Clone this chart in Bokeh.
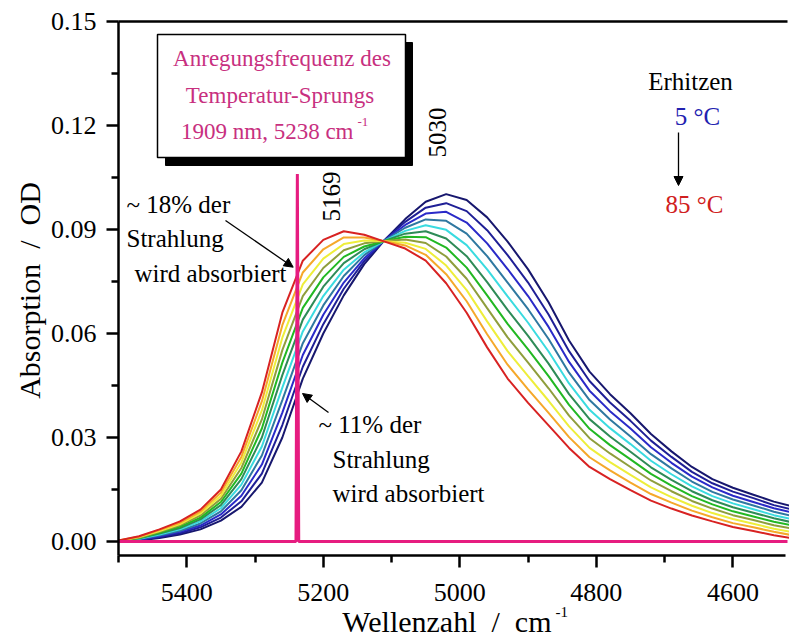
import math
from bokeh.plotting import figure
from bokeh.models import (Range1d, FixedTicker, PrintfTickFormatter, Label, Arrow,
                          NormalHead, BoxAnnotation, LinearAxis)
from bokeh.embed import file_html
from bokeh.resources import INLINE

# ---------------- data ----------------
wavenumber = [5500, 5470, 5440, 5410, 5380, 5350, 5320, 5290, 5260, 5230, 5200, 5170,
              5140, 5110, 5080, 5050, 5020, 4990, 4960, 4930, 4900, 4870, 4840, 4810,
              4780, 4750, 4720, 4690, 4660, 4630, 4600, 4570, 4540, 4510]

t05 = [0.0000, 0.0003, 0.0010, 0.0020, 0.0035, 0.0060, 0.0100, 0.0170, 0.0300, 0.0470, 0.0600, 0.0710,
       0.0800, 0.0870, 0.0930, 0.0980, 0.1002, 0.0985, 0.0935, 0.0865, 0.0785, 0.0690, 0.0580, 0.0490,
       0.0425, 0.0370, 0.0310, 0.0260, 0.0215, 0.0180, 0.0155, 0.0135, 0.0115, 0.0100]
t13 = [0.0000, 0.0004, 0.0013, 0.0024, 0.0041, 0.0069, 0.0116, 0.0196, 0.0336, 0.0504, 0.0627, 0.0729,
       0.0809, 0.0870, 0.0922, 0.0963, 0.0976, 0.0953, 0.0898, 0.0826, 0.0747, 0.0655, 0.0549, 0.0463,
       0.0401, 0.0348, 0.0291, 0.0244, 0.0201, 0.0168, 0.0144, 0.0125, 0.0105, 0.0091]
t21 = [0.0001, 0.0005, 0.0015, 0.0028, 0.0046, 0.0078, 0.0132, 0.0222, 0.0372, 0.0538, 0.0654, 0.0747,
       0.0817, 0.0869, 0.0913, 0.0946, 0.0951, 0.0920, 0.0860, 0.0786, 0.0708, 0.0619, 0.0518, 0.0435,
       0.0376, 0.0326, 0.0272, 0.0227, 0.0187, 0.0156, 0.0132, 0.0114, 0.0096, 0.0082]
t29 = [0.0001, 0.0007, 0.0018, 0.0031, 0.0052, 0.0087, 0.0148, 0.0248, 0.0408, 0.0572, 0.0681, 0.0766,
       0.0826, 0.0869, 0.0905, 0.0929, 0.0925, 0.0888, 0.0823, 0.0747, 0.0670, 0.0584, 0.0487, 0.0408,
       0.0352, 0.0303, 0.0252, 0.0211, 0.0173, 0.0143, 0.0121, 0.0104, 0.0086, 0.0072]
t37 = [0.0001, 0.0008, 0.0020, 0.0035, 0.0058, 0.0096, 0.0164, 0.0274, 0.0444, 0.0606, 0.0708, 0.0784,
       0.0834, 0.0868, 0.0896, 0.0912, 0.0899, 0.0855, 0.0785, 0.0707, 0.0631, 0.0548, 0.0456, 0.0380,
       0.0327, 0.0281, 0.0233, 0.0194, 0.0159, 0.0131, 0.0110, 0.0093, 0.0076, 0.0063]
t45 = [0.0002, 0.0009, 0.0023, 0.0039, 0.0064, 0.0105, 0.0180, 0.0300, 0.0480, 0.0640, 0.0735, 0.0803,
       0.0843, 0.0868, 0.0888, 0.0895, 0.0874, 0.0823, 0.0748, 0.0668, 0.0593, 0.0513, 0.0425, 0.0353,
       0.0303, 0.0259, 0.0214, 0.0178, 0.0145, 0.0119, 0.0099, 0.0083, 0.0067, 0.0054]
t53 = [0.0002, 0.0010, 0.0025, 0.0043, 0.0069, 0.0114, 0.0196, 0.0326, 0.0516, 0.0674, 0.0762, 0.0821,
       0.0851, 0.0867, 0.0879, 0.0878, 0.0848, 0.0790, 0.0710, 0.0628, 0.0554, 0.0477, 0.0394, 0.0325,
       0.0278, 0.0237, 0.0195, 0.0161, 0.0131, 0.0107, 0.0087, 0.0072, 0.0057, 0.0045]
t61 = [0.0002, 0.0011, 0.0028, 0.0047, 0.0075, 0.0123, 0.0212, 0.0352, 0.0552, 0.0708, 0.0789, 0.0840,
       0.0860, 0.0867, 0.0871, 0.0861, 0.0822, 0.0758, 0.0673, 0.0589, 0.0516, 0.0442, 0.0363, 0.0298,
       0.0254, 0.0215, 0.0176, 0.0145, 0.0117, 0.0095, 0.0076, 0.0062, 0.0047, 0.0036]
t69 = [0.0002, 0.0013, 0.0030, 0.0050, 0.0081, 0.0132, 0.0228, 0.0378, 0.0588, 0.0742, 0.0816, 0.0858,
       0.0868, 0.0866, 0.0862, 0.0844, 0.0796, 0.0725, 0.0635, 0.0549, 0.0477, 0.0406, 0.0332, 0.0270,
       0.0229, 0.0192, 0.0156, 0.0128, 0.0103, 0.0082, 0.0065, 0.0051, 0.0037, 0.0026]
t77 = [0.0003, 0.0014, 0.0033, 0.0054, 0.0086, 0.0141, 0.0244, 0.0404, 0.0624, 0.0776, 0.0843, 0.0877,
       0.0877, 0.0866, 0.0854, 0.0827, 0.0771, 0.0693, 0.0598, 0.0510, 0.0439, 0.0371, 0.0301, 0.0243,
       0.0205, 0.0170, 0.0137, 0.0112, 0.0089, 0.0070, 0.0053, 0.0041, 0.0028, 0.0017]
t85 = [0.0003, 0.0015, 0.0035, 0.0058, 0.0092, 0.0150, 0.0260, 0.0430, 0.0660, 0.0810, 0.0870, 0.0895,
       0.0885, 0.0865, 0.0845, 0.0810, 0.0745, 0.0660, 0.0560, 0.0470, 0.0400, 0.0335, 0.0270, 0.0215,
       0.0180, 0.0148, 0.0118, 0.0095, 0.0075, 0.0058, 0.0042, 0.0030, 0.0018, 0.0008]

temperatures = [5, 13, 21, 29, 37, 45, 53, 61, 69, 77, 85]
spectra = [t05, t13, t21, t29, t37, t45, t53, t61, t69, t77, t85]
colors = ["#17176e", "#1f1f96", "#2a2ac8", "#2f78a0", "#3adbe0", "#2e8b57",
          "#22b822", "#8f9e3c", "#eeee3a", "#f5a82a", "#d82222"]

# pump laser line (excitation at 5238 cm-1)
laser_w = [5500, 5240, 5238, 5236, 4520]
laser_v = [0.0, 0.0, 0.106, 0.0, 0.0]

x_major = [5400, 5200, 5000, 4800, 4600]
x_minor = [5500, 5300, 5100, 4900, 4700]
y_major = [0.00, 0.03, 0.06, 0.09, 0.12, 0.15]
y_minor = [0.015, 0.045, 0.075, 0.105, 0.135]

x_title = "Wellenzahl \u00a0/\u00a0 cm"
y_title = "Absorption \u00a0/\u00a0 OD"

# ---------------- layout helpers (pixel -> data) ----------------
FONT = "Liberation Serif"
X0_PX, X1_PX = 118, 787
W0, W1 = 5500, 4520
Y_TOP_PX, Y_ZERO_PX = 21, 541
BASE_SHIFT = 0.38   # empirical baseline correction of Bokeh labels (fraction of font size)


def wx(X):
    return W0 - (X - X0_PX) * (W0 - W1) / (X1_PX - X0_PX)


def vy(Y):
    return 0.15 - (Y - Y_TOP_PX) * 0.15 / (Y_ZERO_PX - Y_TOP_PX)


Y_AXIS_BOTTOM = vy(555)

p = figure(width=789, height=640, output_backend="svg", toolbar_location=None,
           x_range=Range1d(wx(0), wx(789)), y_range=Range1d(vy(640), vy(0)),
           x_axis_location=None, y_axis_location=None, min_border=0)
p.title.visible = False
p.outline_line_color = None
p.grid.visible = False
p.background_fill_color = "white"
p.border_fill_color = "white"


def style_axis(ax, size="26px", standoff=8):
    ax.major_label_text_font = FONT
    ax.major_label_text_font_size = size
    ax.major_label_text_color = "black"
    ax.axis_line_width = 2.5
    ax.axis_line_color = "black"
    ax.major_tick_line_width = 2.5
    ax.minor_tick_line_width = 2.5
    ax.major_tick_in = 0
    ax.major_tick_out = 12
    ax.minor_tick_in = 0
    ax.minor_tick_out = 7
    ax.major_label_standoff = standoff


xaxis = LinearAxis(fixed_location=Y_AXIS_BOTTOM, bounds=(W0, wx(785)),
                   ticker=FixedTicker(ticks=x_major, minor_ticks=x_minor))
style_axis(xaxis, standoff=16)
p.add_layout(xaxis, "below")

yaxis = LinearAxis(fixed_location=W0, bounds=(Y_AXIS_BOTTOM, 0.15),
                   ticker=FixedTicker(ticks=y_major, minor_ticks=y_minor),
                   formatter=PrintfTickFormatter(format="%.2f"))
style_axis(yaxis, standoff=10)
p.add_layout(yaxis, "left")

top_line = LinearAxis(fixed_location=0.15, bounds=(W0, W1), ticker=FixedTicker(ticks=[]))
top_line.axis_line_width = 2.5
top_line.axis_line_color = "black"
top_line.major_tick_out = 0
top_line.minor_tick_out = 0
p.add_layout(top_line, "above")

# spectra
for vals, col in zip(spectra, colors):
    p.line(wavenumber, vals, line_color=col, line_width=2)

p.line(laser_w, laser_v, line_color="#e61c80", line_width=3)

# ---------------- annotation box ----------------
p.add_layout(BoxAnnotation(left=wx(165), right=wx(412), top=vy(42), bottom=vy(165),
                           fill_color="black", fill_alpha=1, line_color="black", line_alpha=1,
                           line_width=1))
p.add_layout(BoxAnnotation(left=wx(157), right=wx(405), top=vy(34), bottom=vy(157),
                           fill_color="white", fill_alpha=1, line_color="black", line_alpha=1,
                           line_width=1.5))

PINK = "#c8307f"


def lab(text, X, Y, size=25, color="black", align="left", rotated=False):
    """X, Y: baseline anchor in picture pixels."""
    if rotated:
        X = X - BASE_SHIFT * size
        angle = math.pi / 2
    else:
        Y = Y - BASE_SHIFT * size
        angle = 0.0
    p.add_layout(Label(x=wx(X), y=vy(Y), text=text, text_font=FONT,
                       text_font_size=f"{size}px", text_color=color, text_align=align,
                       text_baseline="alphabetic", angle=angle))


lab("Anregungsfrequenz des", 281.5, 66.7, 23, PINK, "center")
lab("Temperatur-Sprungs", 279.5, 103.3, 23, PINK, "center")
lab("1909 nm, 5238 cm", 353, 139.3, 23, PINK, "right")
lab("-1", 357, 126, 13, PINK, "left")

lab("~ 18% der", 126, 213)
lab("Strahlung", 126, 247)
lab("wird absorbiert", 134, 282)

lab("~ 11% der", 318, 433)
lab("Strahlung", 332, 468)
lab("wird absorbiert", 332, 502)

lab("5169", 340, 196, 25, "black", "center", True)
lab("5030", 446, 132, 25, "black", "center", True)

lab("Erhitzen", 690, 90, 25, "black", "center")
lab("5 °C", 697, 125, 25, "#2222b0", "center")
lab("85 °C", 694, 213, 25, "#d02020", "center")

# axis titles
lab(x_title, 551, 632, 30, "black", "right")
lab("-1", 555, 617, 15, "black", "left")
lab(y_title, 40, 290, 30, "black", "center", True)


def arrow(X0, Y0, X1, Y1):
    p.add_layout(Arrow(end=NormalHead(size=9, fill_color="black", line_color="black"),
                       x_start=wx(X0), y_start=vy(Y0), x_end=wx(X1), y_end=vy(Y1),
                       line_color="black", line_width=1.3))


arrow(225, 220, 292.7, 266.7)
arrow(328, 412, 302, 393)
arrow(678, 132, 678, 185)

open("out.html", "w").write(file_html(p, INLINE))
